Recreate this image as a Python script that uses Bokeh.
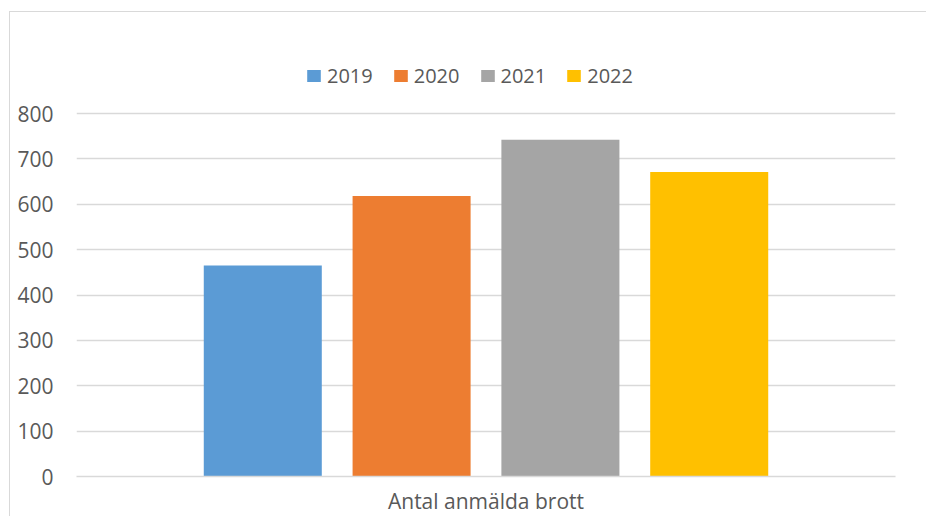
from bokeh.plotting import figure
from bokeh.models import Range1d, FactorRange, FixedTicker, Legend, LegendItem
from bokeh.transform import dodge
from bokeh.embed import file_html
from bokeh.resources import INLINE

categories = ["Antal anmälda brott"]
years = ["2019", "2020", "2021", "2022"]
values = [465, 618, 742, 671]
colors = ["#5B9BD5", "#ED7D31", "#A5A5A5", "#FFC000"]
y_ticks = [0, 100, 200, 300, 400, 500, 600, 700, 800]

FONT = "Open Sans"
TXT = "#595959"
GRID = "#D9D9D9"

# frame extends above the 800 line so the legend can sit inside it
FRAME_H = 436
AXIS_PX = 363  # pixels spanned by 0..800
y_end = y_ticks[-1] * FRAME_H / AXIS_PX

p = figure(
    width=917, height=505,
    x_range=FactorRange(*categories, range_padding=0),
    y_range=Range1d(0, y_end),
    output_backend="svg", toolbar_location=None,
    min_border_left=66, min_border_right=32, min_border_top=28, min_border_bottom=41,
)
p.margin = (11, 0, 0, 9)
p.styles = {"border-top": "1px solid #D9D9D9", "border-left": "1px solid #D9D9D9"}
p.outline_line_color = None
p.background_fill_color = "white"
p.border_fill_color = "white"

step = 0.1817
bar_w = 0.1441
items = []
for i, (yr, v, c) in enumerate(zip(years, values, colors)):
    src = {"cat": categories, "val": [v]}
    r = p.vbar(x=dodge("cat", (i - 1.5) * step, range=p.x_range), top="val", width=bar_w,
               source=src, fill_color=c, line_color=None)
    items.append(LegendItem(label=yr, renderers=[r]))

legend = Legend(items=items, orientation="horizontal", location=(229, 387),
                padding=0, margin=0, spacing=19, label_standoff=5,
                glyph_width=17, glyph_height=15,
                label_text_font=FONT, label_text_font_size="20px", label_text_color=TXT,
                border_line_color=None, background_fill_alpha=0)
p.add_layout(legend, "center")

p.ygrid.grid_line_color = GRID
p.ygrid.grid_line_width = 1.5
p.xgrid.grid_line_color = None

p.yaxis.ticker = FixedTicker(ticks=y_ticks)
p.yaxis.axis_line_color = None
p.yaxis.major_tick_line_color = None
p.yaxis.minor_tick_line_color = None
p.yaxis.major_tick_out = 0
p.yaxis.major_tick_in = 0
p.yaxis.minor_tick_out = 0
p.yaxis.major_label_text_font = FONT
p.yaxis.major_label_text_font_size = "21px"
p.yaxis.major_label_text_color = TXT
p.yaxis.major_label_standoff = 23

p.xaxis.axis_line_color = GRID
p.xaxis.axis_line_width = 1.5
p.xaxis.major_tick_line_color = None
p.xaxis.minor_tick_line_color = None
p.xaxis.major_tick_out = 0
p.xaxis.major_tick_in = 0
p.xaxis.minor_tick_out = 0
p.xaxis.major_label_text_font = FONT
p.xaxis.major_label_text_font_size = "21px"
p.xaxis.major_label_text_color = TXT
p.xaxis.major_label_standoff = 10

open("out.html", "w").write(file_html(p, INLINE))
